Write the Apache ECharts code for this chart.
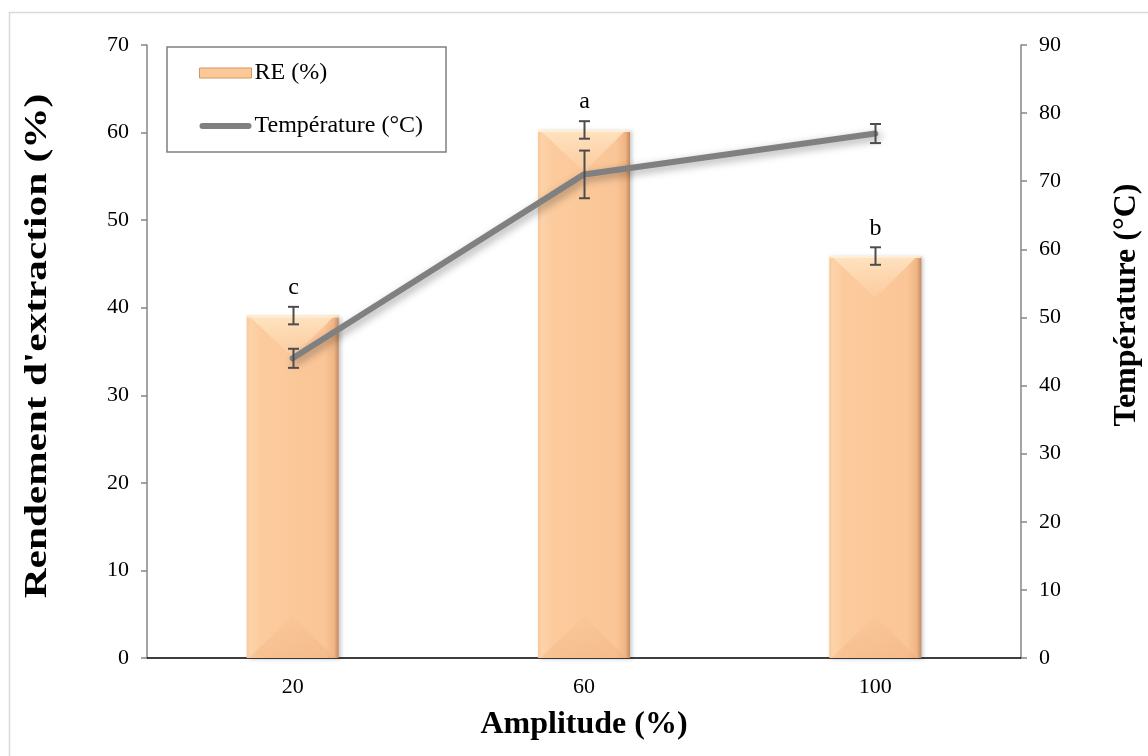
<!DOCTYPE html>
<html>
<head>
<meta charset="utf-8">
<script src="https://cdn.jsdelivr.net/npm/echarts@6/dist/echarts.min.js"></script>
<style>
html,body{margin:0;padding:0;background:#fff;}
#chart{width:1148px;height:756px;}
</style>
</head>
<body>
<div id="chart"></div>
<script>
var categories = ['20', '60', '100'];
var reValues = [39.1, 60.3, 45.9];
var reErrors = [1.0, 1.0, 1.0];
var reLetters = ['c', 'a', 'b'];
var tempValues = [44, 71, 77];
var tempErrors = [1.4, 3.5, 1.4];
var leftTicks = {min: 0, max: 70, interval: 10};
var rightTicks = {min: 0, max: 90, interval: 10};
var xTitle = 'Amplitude (%)';
var leftTitle = "Rendement d'extraction (%)";
var rightTitle = 'Température (°C)';

var FONT = '"Liberation Serif", "Times New Roman", serif';
var BAR_W = 92;

var chart = echarts.init(document.getElementById('chart'));

function errRender(values, errors, letters) {
  return function (params, api) {
    var i = params.dataIndex;
    var top = api.coord([i, values[i] + errors[i]]);
    var bot = api.coord([i, values[i] - errors[i]]);
    var x = Math.round(top[0]) + 0.5;
    var cw = 5.5;
    var st = {stroke: '#4d4d4d', lineWidth: 2};
    var children = [
      {type: 'line', shape: {x1: x, y1: top[1], x2: x, y2: bot[1]}, style: st},
      {type: 'line', shape: {x1: x - cw, y1: top[1], x2: x + cw, y2: top[1]}, style: st},
      {type: 'line', shape: {x1: x - cw, y1: bot[1], x2: x + cw, y2: bot[1]}, style: st}
    ];
    if (letters) {
      children.push({type: 'text', style: {x: x, y: top[1] - 7, text: letters[i], textAlign: 'center', textVerticalAlign: 'bottom', font: '24px ' + FONT, fill: '#000'}});
    }
    return {type: 'group', children: children};
  };
}

function bevelRender(params, api) {
  var i = params.dataIndex;
  var p = api.coord([i, reValues[i]]);
  var b = api.coord([i, 0]);
  var h = BAR_W / 2;
  var l = p[0] - h, r = p[0] + h;
  return {type: 'group', children: [
    {type: 'polygon', shape: {points: [[l + 2, p[1]], [r - 4, p[1]], [p[0], p[1] + h - 4]]},
     style: {fill: new echarts.graphic.LinearGradient(0, 0, 0, 1, [{offset: 0, color: 'rgba(255,232,200,0.85)'}, {offset: 1, color: 'rgba(255,225,190,0.15)'}])}},
    {type: 'polygon', shape: {points: [[l + 2, b[1]], [r - 4, b[1]], [p[0], b[1] - h + 4]]},
     style: {fill: new echarts.graphic.LinearGradient(0, 1, 0, 0, [{offset: 0, color: 'rgba(230,160,110,0.25)'}, {offset: 1, color: 'rgba(230,160,110,0.05)'}])}},
    {type: 'rect', shape: {x: l, y: p[1], width: BAR_W, height: 2}, style: {fill: 'rgba(255,240,215,0.9)'}}
  ]};
}

var titleStyle = {font: 'bold 32px ' + FONT, fill: '#000', textAlign: 'center', textVerticalAlign: 'middle'};

var option = {
  backgroundColor: '#fff',
  animation: false,
  textStyle: {fontFamily: FONT},
  graphic: [
    {type: 'rect', shape: {x: 9.5, y: 12.5, width: 1160, height: 770}, style: {fill: 'none', stroke: '#d9d9d9', lineWidth: 1.5}, z: 0},
    {type: 'text', x: 38, y: 346, rotation: Math.PI / 2, scaleX: 1.29, style: Object.assign({text: leftTitle}, titleStyle), z: 10},
    {type: 'text', x: 1127, y: 305, rotation: Math.PI / 2, style: Object.assign({text: rightTitle}, titleStyle), z: 10}
  ],
  grid: {left: 147, right: 127, top: 45, bottom: 98},
  legend: {
    orient: 'vertical', left: 167, top: 47,
    padding: [14, 23, 14, 32], itemGap: 29,
    itemWidth: 52, itemHeight: 10,
    borderColor: '#7f7f7f', borderWidth: 1.5, backgroundColor: '#fff',
    textStyle: {fontFamily: FONT, fontSize: 24, color: '#000', padding: [0, 0, 0, -2]},
    data: [
      {name: 'RE (%)', icon: 'rect', itemStyle: {color: '#fbc898', borderColor: '#d9955f', borderWidth: 1}},
      {name: 'Température (°C)', icon: 'path://M3,3 L49,3 A3,3 0 0 1 49,9 L3,9 A3,3 0 0 1 3,3 Z', itemStyle: {color: '#808080'}}
    ]
  },
  xAxis: {
    type: 'category', data: categories,
    name: xTitle, nameLocation: 'middle', nameGap: 51,
    nameTextStyle: {fontFamily: FONT, fontSize: 32, fontWeight: 'bold', color: '#000'},
    axisLine: {lineStyle: {color: '#000', width: 1.5}},
    axisTick: {show: false},
    axisLabel: {fontFamily: FONT, fontSize: 22, color: '#000', margin: 18}
  },
  yAxis: [
    {
      type: 'value', min: leftTicks.min, max: leftTicks.max, interval: leftTicks.interval,
      axisLine: {show: true, lineStyle: {color: '#868686', width: 1.5}},
      axisTick: {show: true, length: 6, lineStyle: {color: '#868686', width: 1.5}},
      splitLine: {show: false},
      axisLabel: {fontFamily: FONT, fontSize: 22, color: '#000', margin: 18}
    },
    {
      type: 'value', min: rightTicks.min, max: rightTicks.max, interval: rightTicks.interval,
      axisLine: {show: true, lineStyle: {color: '#868686', width: 1.5}},
      axisTick: {show: true, length: 6, lineStyle: {color: '#868686', width: 1.5}},
      splitLine: {show: false},
      axisLabel: {fontFamily: FONT, fontSize: 22, color: '#000', margin: 18}
    }
  ],
  series: [
    {
      name: 'RE (%)', type: 'bar', yAxisIndex: 0, barWidth: BAR_W, data: reValues, z: 2,
      itemStyle: {
        color: new echarts.graphic.LinearGradient(0, 0, 1, 0, [
          {offset: 0, color: '#f9c796'},
          {offset: 0.04, color: '#fdd3a9'},
          {offset: 0.15, color: '#fccb9d'},
          {offset: 0.85, color: '#fac597'},
          {offset: 0.95, color: '#f0b584'},
          {offset: 1, color: '#c48a5f'}
        ]),
        shadowColor: 'rgba(0,0,0,0.22)', shadowBlur: 4, shadowOffsetX: 2, shadowOffsetY: 1
      }
    },
    {
      type: 'custom', yAxisIndex: 0, data: reValues, renderItem: bevelRender, z: 3, silent: true
    },
    {
      type: 'custom', yAxisIndex: 0, data: reValues, renderItem: errRender(reValues, reErrors, reLetters), z: 4, silent: true
    },
    {
      name: 'Température (°C)', type: 'line', yAxisIndex: 1, data: tempValues, z: 5,
      showSymbol: false, symbol: 'none',
      lineStyle: {color: '#808080', width: 6, cap: 'round', join: 'round',
        shadowColor: 'rgba(0,0,0,0.35)', shadowBlur: 8, shadowOffsetX: 3, shadowOffsetY: 3},
      itemStyle: {color: '#808080'}
    },
    {
      type: 'custom', yAxisIndex: 1, data: tempValues, renderItem: errRender(tempValues, tempErrors, null), z: 6, silent: true
    }
  ]
};
chart.setOption(option);
</script>
</body>
</html>
